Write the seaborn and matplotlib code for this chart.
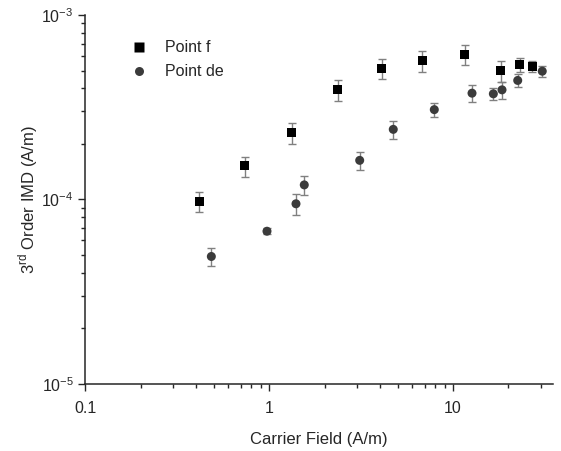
import numpy as np
import pandas as pd
import seaborn as sns
import matplotlib.pyplot as plt
from matplotlib.ticker import FuncFormatter

# data
f_field = [0.416, 0.734, 1.325, 2.36, 4.09, 6.81, 11.58, 18.18, 23.07, 27.0]
f_imd = [9.75e-5, 1.52e-4, 2.30e-4, 3.93e-4, 5.15e-4, 5.65e-4, 6.09e-4, 4.99e-4, 5.39e-4, 5.28e-4]
f_err = [1.2e-5, 1.9e-5, 3.0e-5, 5.0e-5, 6.5e-5, 7.3e-5, 7.5e-5, 6.3e-5, 4.7e-5, 3.4e-5]

de_field = [0.484, 0.972, 1.398, 1.551, 3.106, 4.73, 7.91, 12.69, 16.58, 18.48, 22.5, 30.6]
de_imd = [4.91e-5, 6.73e-5, 9.48e-5, 1.20e-4, 1.63e-4, 2.40e-4, 3.07e-4, 3.77e-4, 3.74e-4, 3.93e-4, 4.42e-4, 4.96e-4]
de_err = [5.6e-6, 2.6e-6, 1.25e-5, 1.4e-5, 1.9e-5, 2.6e-5, 2.8e-5, 3.9e-5, 2.9e-5, 4.1e-5, 3.5e-5, 3.4e-5]

series_names = ["Point f", "Point de"]

df = pd.concat([
    pd.DataFrame({"field": f_field, "imd": f_imd, "err": f_err, "series": series_names[0]}),
    pd.DataFrame({"field": de_field, "imd": de_imd, "err": de_err, "series": series_names[1]}),
])

sns.set_style("ticks")
plt.rcParams['font.family'] = ['Liberation Sans', 'DejaVu Sans']
plt.rcParams['mathtext.fontset'] = 'custom'
plt.rcParams['mathtext.rm'] = 'Liberation Sans'
plt.rcParams['text.color'] = '#262626'
plt.rcParams['axes.labelcolor'] = '#262626'
plt.rcParams['xtick.color'] = '#262626'
plt.rcParams['ytick.color'] = '#262626'

fig = plt.figure(figsize=(5.61, 4.51), dpi=100)
ax = fig.add_axes([0.1524, 0.1486, 0.8333, 0.8181])

colors = {"Point f": "black", "Point de": "#3b3b3b"}
markers = {"Point f": "s", "Point de": "o"}

# error bars first so the markers sit on top
for name, grp in df.groupby("series", sort=False):
    ax.errorbar(grp["field"], grp["imd"], yerr=grp["err"], fmt="none",
                ecolor="#808080", elinewidth=1, capsize=2.8, capthick=1, zorder=1)

sns.scatterplot(data=df, x="field", y="imd", hue="series", style="series",
                palette=colors, markers=markers, s=42, edgecolor="none",
                ax=ax, zorder=3)

ax.set(xscale="log", yscale="log")
ax.set_xlim(0.1, 35)
ax.set_ylim(1e-5, 1e-3)
ax.xaxis.set_major_formatter(FuncFormatter(lambda v, _: f"{v:g}"))

ax.set_xlabel("Carrier Field (A/m)", fontsize=12, labelpad=12)
ax.set_ylabel("3$^{\\mathrm{rd}}$ Order IMD (A/m)", fontsize=12, labelpad=1)
ax.tick_params(which="major", direction="out", length=5, width=1, labelsize=11.5)
ax.tick_params(axis="x", which="major", pad=7)
ax.tick_params(which="minor", direction="out", length=3, width=1)
sns.despine(ax=ax)
for sp in ["left", "bottom"]:
    ax.spines[sp].set_linewidth(1.1)
    ax.spines[sp].set_color("#262626")

handles, labels = ax.get_legend_handles_labels()
ax.legend(handles, labels, frameon=False, loc="upper left",
          bbox_to_anchor=(0.05, 0.97), fontsize=11.5, handletextpad=0.6,
          labelspacing=0.55, markerscale=1.0)

fig.savefig("out.png", dpi=100)
